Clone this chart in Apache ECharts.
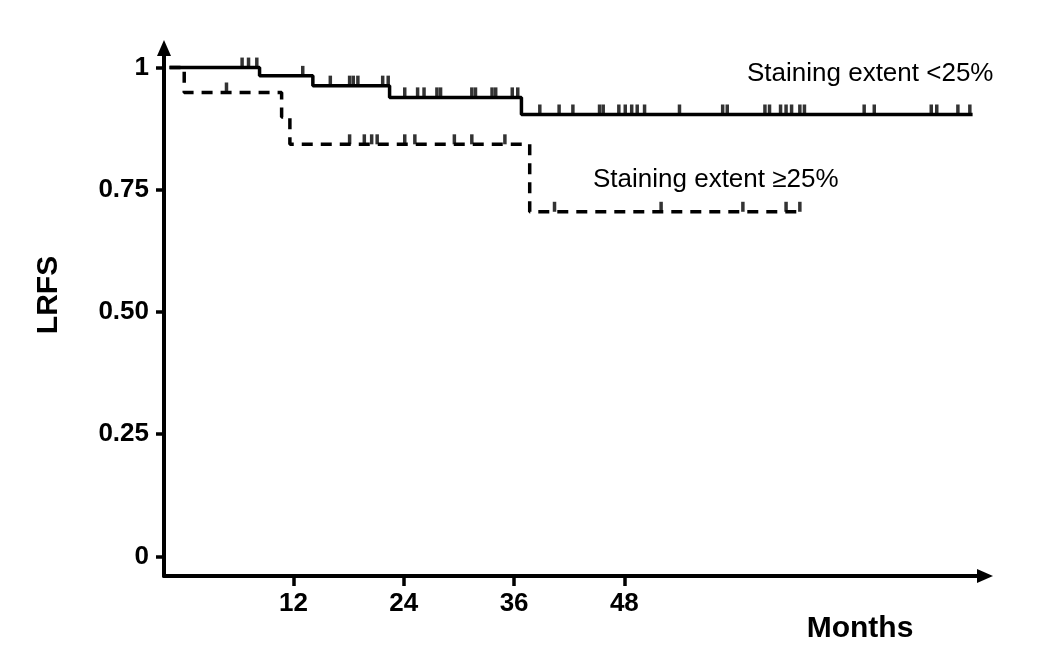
<!DOCTYPE html>
<html>
<head>
<meta charset="utf-8">
<script src="https://cdn.jsdelivr.net/npm/echarts@6/dist/echarts.min.js"></script>
<style>
  html, body { margin: 0; background: #fff; }
  #km { width: 1050px; height: 668px; }
</style>
</head>
<body>
<div id="km"></div>
<script>
// Kaplan-Meier steps [month, LRFS]
const lowSteps = [[-1.5, 1], [8.3, 0.983], [14.1, 0.963], [22.45, 0.939], [36.8, 0.904], [85.9, 0.904]];
const highSteps = [[-1.5, 1], [0.1, 0.949], [10.7, 0.899], [11.6, 0.843], [37.7, 0.705], [67.4, 0.705]];

// censored observations (months)
const lowCensored = [6.4, 7.1, 8.0, 13.0, 16.0, 18.1, 18.5, 19.0, 21.7, 22.3, 24.1, 25.5, 26.2,
  27.6, 28.0, 31.4, 31.8, 33.6, 34.0, 35.8, 36.4, 38.8, 40.9, 42.4, 45.3, 45.7, 47.4, 48.1,
  48.8, 49.4, 50.2, 54.0, 58.7, 59.2, 63.3, 63.8, 65.0, 65.6, 66.2, 67.1, 67.6, 74.1, 75.2,
  81.4, 82.0, 84.3, 85.6];
const highCensored = [4.7, 18.1, 19.7, 20.5, 21.1, 24.1, 25.2, 29.5, 31.4, 35.0, 40.4, 52.0,
  60.9, 65.6, 67.1];

const xTicks = [12, 24, 36, 48];
const yTicks = [0, 0.25, 0.5, 0.75, 1];
const yTickLabels = ['0', '0.25', '0.50', '0.75', '1'];

const groupNames = ['Staining extent <25%', 'Staining extent \u226525%'];

const FONT = '"Liberation Sans", Arial, Helvetica, sans-serif';

function levelAt(steps, t) {
  let v = steps[0][1];
  for (const [x, y] of steps) {
    if (x <= t) v = y;
  }
  return v;
}

const chart = echarts.init(document.getElementById('km'), null, { renderer: 'canvas' });

const axisLine = {
  show: true,
  onZero: false,
  symbol: ['none', 'triangle'],
  symbolSize: [14, 16],
  lineStyle: { color: '#000', width: 4 }
};

function censorSeries(times, steps) {
  return {
    type: 'scatter',
    symbol: 'rect',
    symbolSize: [3.5, 10],
    symbolOffset: [0, -5],
    itemStyle: { color: '#000' },
    z: 3,
    data: times.map(t => [t, levelAt(steps, t)])
  };
}

chart.setOption({
  animation: false,
  backgroundColor: '#fff',
  grid: { left: 164, top: 48, width: 821, height: 528, containLabel: false },
  xAxis: {
    type: 'value',
    min: -2.1,
    max: 87.25,
    axisLine: axisLine,
    axisTick: { show: true, customValues: xTicks, length: 10, lineStyle: { color: '#000', width: 3.5 } },
    axisLabel: {
      customValues: xTicks,
      margin: 15,
      color: '#000',
      fontFamily: FONT,
      fontWeight: 'bold',
      fontSize: 26
    },
    splitLine: { show: false }
  },
  yAxis: {
    type: 'value',
    min: -0.04,
    max: 1.04,
    axisLine: axisLine,
    axisTick: { show: true, customValues: yTicks, length: 8, lineStyle: { color: '#000', width: 3.5 } },
    axisLabel: {
      customValues: yTicks,
      margin: 15,
      color: '#000',
      fontFamily: FONT,
      fontWeight: 'bold',
      fontSize: 26,
      formatter: v => yTickLabels[yTicks.indexOf(v)]
    },
    splitLine: { show: false }
  },
  graphic: [
    {
      type: 'text', x: 49, y: 295, rotation: Math.PI / 2,
      style: { text: 'LRFS', fill: '#000', font: 'bold 30px ' + FONT, textAlign: 'center', textVerticalAlign: 'middle' }
    },
    {
      type: 'text', x: 860, y: 629,
      style: { text: 'Months', fill: '#000', font: 'bold 30px ' + FONT, textAlign: 'center', textVerticalAlign: 'middle' }
    },
    {
      type: 'text', x: 747, y: 74,
      style: { text: groupNames[0], fill: '#000', font: '26px ' + FONT, textAlign: 'left', textVerticalAlign: 'middle' }
    },
    {
      type: 'text', x: 593, y: 180,
      style: { text: groupNames[1], fill: '#000', font: '26px ' + FONT, textAlign: 'left', textVerticalAlign: 'middle' }
    }
  ],
  series: [
    {
      name: groupNames[0],
      type: 'line',
      step: 'end',
      showSymbol: false,
      data: lowSteps,
      lineStyle: { color: '#000', width: 3.5, cap: 'butt' }
    },
    {
      name: groupNames[1],
      type: 'line',
      step: 'end',
      showSymbol: false,
      data: highSteps,
      lineStyle: { color: '#000', width: 3.5, type: [11, 8], cap: 'butt' }
    },
    censorSeries(lowCensored, lowSteps),
    censorSeries(highCensored, highSteps)
  ]
});
</script>
</body>
</html>
